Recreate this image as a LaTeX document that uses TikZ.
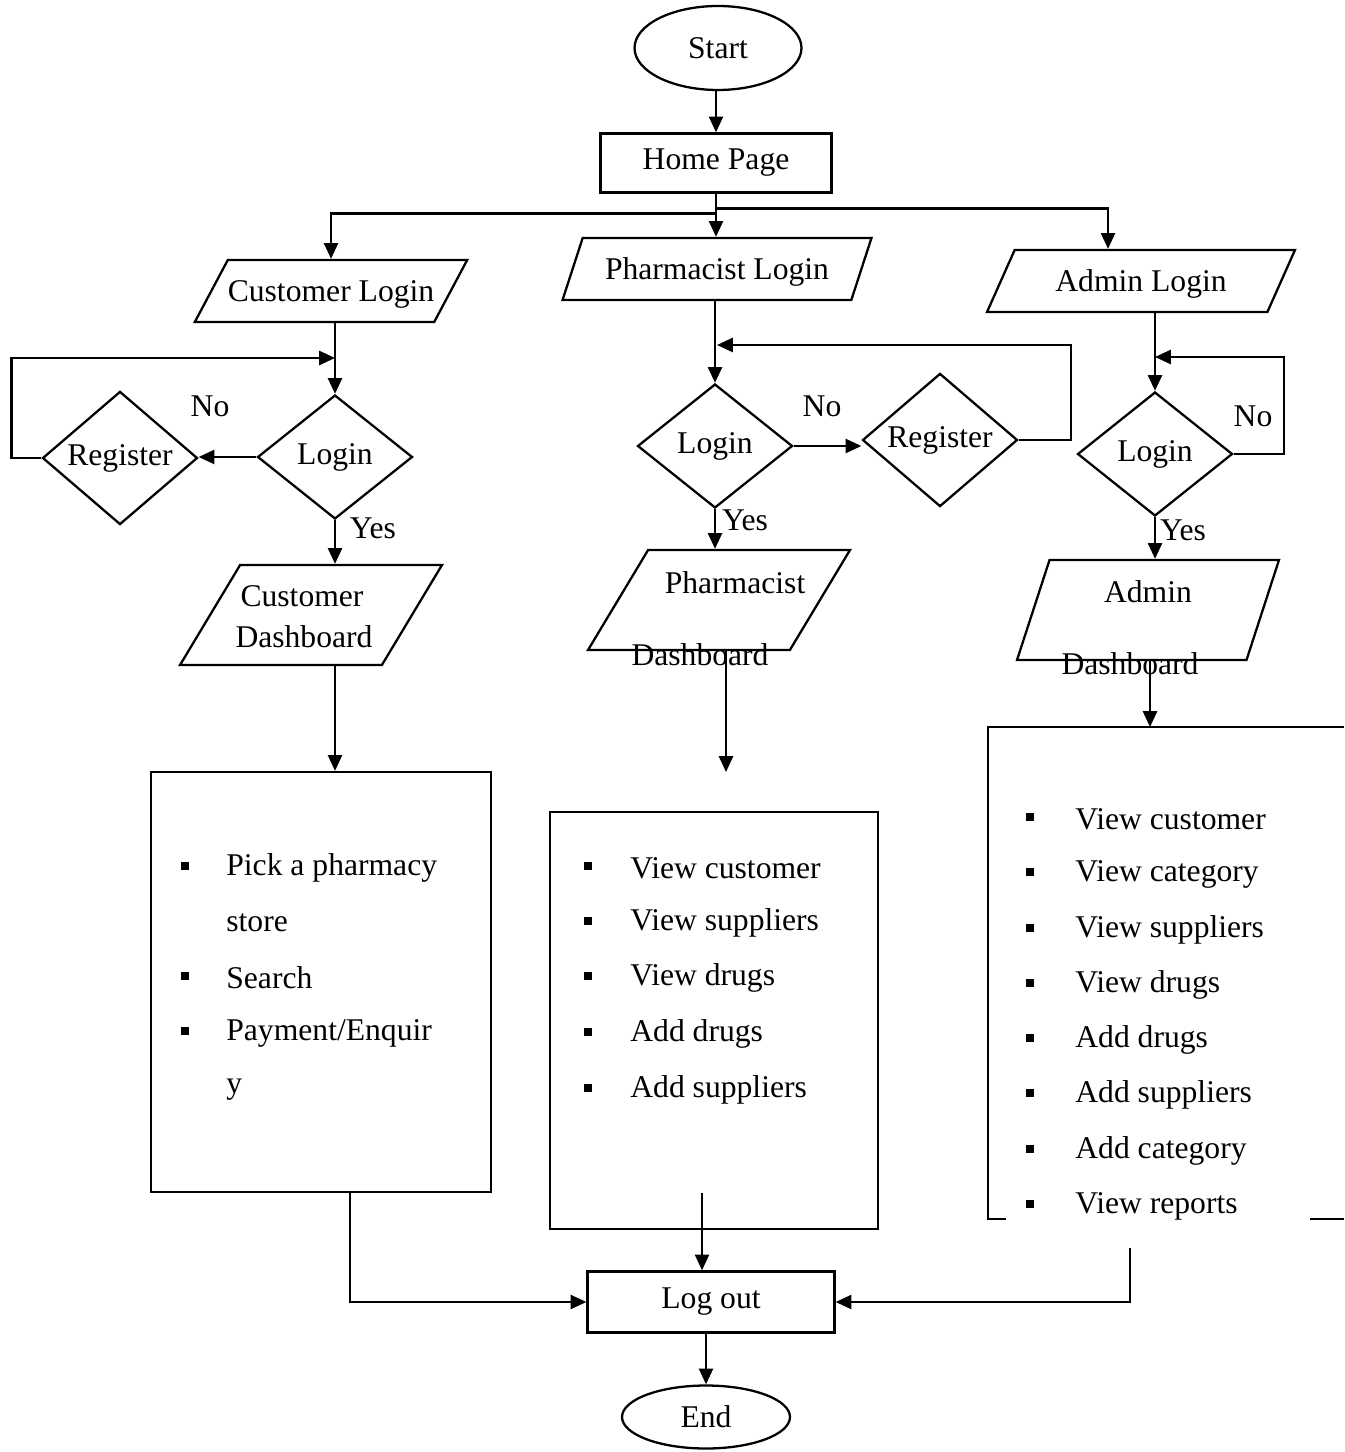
\documentclass[tikz,border=0pt]{standalone}
\usepackage{fontspec}
\setmainfont{Liberation Serif}
\usetikzlibrary{shapes.geometric,arrows.meta}

\tikzset{
	every node/.style={font=\fontsize{18}{22}\selectfont},
	arr/.style={-{Triangle[length=9pt,width=8pt]}, line width=1.3pt},
	term/.style={ellipse, draw, line width=1.3pt, inner sep=0pt},
	proc/.style={rectangle, draw, line width=1.3pt, inner sep=0pt},
	dec/.style={diamond, draw, line width=1.3pt, inner sep=0pt, minimum width=3.1cm, minimum height=2.48cm},
	para/.style={trapezium, draw, line width=1.3pt, inner sep=0pt, trapezium stretches body=true},
	inpara/.style={para, text height=0.83cm, text depth=0.41cm},
	dashpara/.style={para, text height=2cm, text depth=0pt},
	blt/.style={fill, minimum size=0.16cm, inner sep=0pt}
}

\begin{document}
\begin{tikzpicture}[x=0.02cm, y=-0.02cm]
		\useasboundingbox (0,0) rectangle (1344,1452);
		
		% start and home page
		\node[term, minimum width=3.34cm, minimum height=1.68cm] (start) at (718,48) {Start};
		\node[proc, minimum width=4.62cm, minimum height=1.18cm] (home) at (716,163) {Home Page};
		
		% login inputs
		\node[inpara, trapezium left angle=62, trapezium right angle=118, minimum width=5.44cm] (clogin) at (331,291) {Customer Login};
		\node[inpara, trapezium left angle=72, trapezium right angle=108, minimum width=6.18cm] (plogin) at (717,269) {Pharmacist Login};
		\node[inpara, trapezium left angle=66, trapezium right angle=114, minimum width=6.16cm] (alogin) at (1141,281) {Admin Login};
		
		% decisions
		\node[dec] (clog) at (335,457) {Login};
		\node[dec] (creg) at (120,458) {Register};
		\node[dec] (plog) at (715,446) {Login};
		\node[dec] (preg) at (940,440) {Register};
		\node[dec] (alog) at (1155,454) {Login};
		
		\node (cno) at (210,406) {No};
		\node (cyes) at (373,528) {Yes};
		\node (pno) at (822,406) {No};
		\node (pyes) at (745,520) {Yes};
		\node (ano) at (1253,416) {No};
		\node (ayes) at (1183,530) {Yes};
		
		% dashboards
		\node[dashpara, trapezium left angle=59, trapezium right angle=121, minimum width=5.24cm] (cdash) at (311,615) {};
		\node (cdash1) at (302,596) {Customer};
		\node (cdash2) at (304,637) {Dashboard};
		\node[dashpara, trapezium left angle=59, trapezium right angle=121, minimum width=5.24cm] (pdash) at (719,600) {};
		\node (pdash1) at (735,583) {Pharmacist};
		\node (pdash2) at (700,655) {Dashboard};
		\node[dashpara, trapezium left angle=72, trapezium right angle=108, minimum width=5.24cm] (adash) at (1148,610) {};
		\node (adash1) at (1148,592) {Admin};
		\node (adash2) at (1130,664) {Dashboard};
		
		% customer menu
		\node[proc, minimum width=6.8cm, minimum height=8.4cm] (cbox) at (321,982) {};
		\foreach \y/\txt [count=\i] in {868/Pick a pharmacy, 923/store, 978/Search, 1033/{Payment/Enquir}, 1090/y}
			\node[anchor=west, inner sep=0pt] (ci\i) at (226,\y) {\txt};
		\foreach \y [count=\i] in {866, 976, 1031}
			\node[blt] (cb\i) at (185,\y) {};
		
		% pharmacist menu
		\node[proc, minimum width=6.56cm, minimum height=8.34cm] (pbox) at (714,1020.5) {};
		\foreach \y/\txt [count=\i] in {868/View customer, 923/View suppliers, 978/View drugs, 1034/Add drugs, 1090/Add suppliers} {
			\node[anchor=west, inner sep=0pt] (pi\i) at (630,\y) {\txt};
			\node[blt] (pb\i) at (588,\y-2) {};
		}
		
		% admin menu (box runs off the page)
		\draw[line width=1.3pt] (1006,1219) -- (988,1219) -- (988,727) -- (1344,727);
		\draw[line width=1.3pt] (1310,1219) -- (1344,1219);
		\foreach \y/\txt [count=\i] in {819/View customer, 874/View category, 930/View suppliers, 985/View drugs, 1040/Add drugs, 1095/Add suppliers, 1151/Add category, 1206/View reports} {
			\node[anchor=west, inner sep=0pt] (ai\i) at (1075,\y) {\txt};
			\node[blt] (ab\i) at (1030,\y-2) {};
		}
		
		% log out and end
		\node[proc, minimum width=4.94cm, minimum height=1.22cm] (logout) at (711,1302) {Log out};
		\node[term, minimum width=3.36cm, minimum height=1.26cm] (end) at (706,1417) {End};
		
		\coordinate (cjoin) at (335,358);
		\coordinate (pjoin) at (717,345);
		\coordinate (ajoin) at (1155,357);
		\coordinate (pfree) at (726,772);
		\coordinate (pend) at (702,1193);
		\coordinate (atop) at (1150,727);
		\coordinate (aout) at (1130,1248);
		
		% top arrows
		\draw[arr] (start.south -| home.north) -- (home.north);
		\draw[arr] (home.south) -- (home.south |- plogin.north);
		\draw[arr] ([yshift=-0.4cm]home.south) -| (clogin.north);
		\draw[arr] ([yshift=-0.3cm]home.south) -| ([xshift=-0.66cm]alogin.north);
		
		% customer flow
		\draw[arr] (clog.north |- clogin.south) -- (clog.north);
		\draw[arr] (creg.west) -- ++(-30,0) |- (cjoin);
		\draw[arr] (clog.west) -- (clog.west -| creg.east);
		\draw[arr] (clog.south) -- (clog.south |- cdash.north);
		\draw[arr] (clog.south |- cdash.south) -- (clog.south |- cbox.north);
		\draw[arr] ([xshift=0.58cm]cbox.south) |- (logout.west);
		
		% pharmacist flow
		\draw[arr] (plog.north |- plogin.south) -- (plog.north);
		\draw[arr] (preg.east) -- ++(52,0) |- (pjoin);
		\draw[arr] (plog.east) -- (plog.east -| preg.west);
		\draw[arr] (plog.south) -- (plog.south |- pdash.north);
		\draw[arr] (pfree |- pdash.south) -- (pfree);
		\draw[arr] (pend) -- (pend |- logout.north);
		
		% admin flow
		\draw[arr] (alog.north |- alogin.south) -- (alog.north);
		\draw[arr] (alog.east) -- ++(50,0) |- (ajoin);
		\draw[arr] (alog.south) -- (alog.south |- adash.north);
		\draw[arr] (atop |- adash.south) -- (atop);
		\draw[arr] (aout) |- (logout.east);
		
		\draw[arr] (end.north |- logout.south) -- (end.north);
		
	\end{tikzpicture}
\end{document}
